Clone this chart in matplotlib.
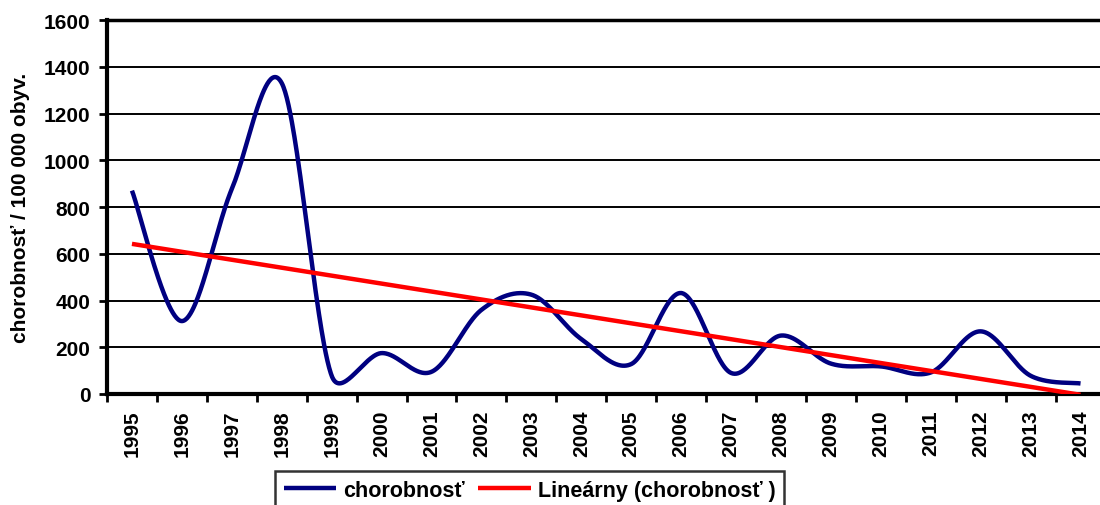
import numpy as np
import matplotlib.pyplot as plt

plt.rcParams['font.family'] = ['Liberation Sans', 'DejaVu Sans']
plt.rcParams['font.weight'] = 'bold'

# Data
years = [str(y) for y in range(1995, 2015)]
chorobnost = [870, 312, 877, 1330, 78, 175, 95, 360, 425, 235,
              128, 432, 90, 250, 130, 118, 92, 268, 78, 45]
y_ticks = [0, 200, 400, 600, 800, 1000, 1200, 1400, 1600]


def excel_smooth(ax, x, y, n=60):
    # Excel style smoothed line: Bezier segments built in pixel space,
    # control arm = |P(i+1)-P(i-1)|/6, capped at half of the segment
    pts = ax.transData.transform(np.column_stack([x, y]))
    m = len(pts)
    t = np.linspace(0, 1, n)[:, None]
    out = []
    for i in range(m - 1):
        p0 = pts[max(i - 1, 0)]
        p1 = pts[i]
        p2 = pts[i + 1]
        p3 = pts[min(i + 2, m - 1)]
        seg = np.linalg.norm(p2 - p1)
        d02 = p2 - p0
        d13 = p3 - p1
        n02 = np.linalg.norm(d02)
        n13 = np.linalg.norm(d13)
        c1 = p1 + (d02 / 6 if n02 / 6 < seg / 2 else d02 / n02 * seg / 2)
        c2 = p2 - (d13 / 6 if n13 / 6 < seg / 2 else d13 / n13 * seg / 2)
        b = (1 - t) ** 3 * p1 + 3 * (1 - t) ** 2 * t * c1 + 3 * (1 - t) * t ** 2 * c2 + t ** 3 * p2
        out.append(b if i == 0 else b[1:])
    out = np.vstack(out)
    data = ax.transData.inverted().transform(out)
    return data[:, 0], data[:, 1]


x = np.arange(1, len(years) + 1)
coef = np.polyfit(x, chorobnost, 1)
trend = np.polyval(coef, x)

fig = plt.figure(figsize=(11, 5.06), dpi=100)
ax = fig.add_axes([107 / 1100, 1 - 395 / 506, 1.0 - 107 / 1100 + 0.005, (395 - 21) / 506])
ax.set_xlim(0.5, len(years) + 0.5)
ax.set_ylim(0, 1600)

sx, sy = excel_smooth(ax, x, chorobnost)
ax.plot(sx, sy, color='#000080', lw=3.2, solid_capstyle='butt', label='chorobnosť', zorder=3)
ax.plot(x, trend, color='#FF0000', lw=3.2, solid_capstyle='butt', label='Lineárny (chorobnosť )', zorder=4)

ax.set_yticks(y_ticks)
ax.set_yticklabels([str(v) for v in y_ticks], fontsize=15, fontweight='bold')
ax.yaxis.grid(True, color='black', lw=1.4)
ax.set_axisbelow(True)

ax.set_xticks(np.arange(0.5, len(years) + 1, 1))
ax.set_xticklabels([])
ax.set_xticks(x, minor=True)
ax.set_xticklabels(years, minor=True, rotation=90, fontsize=15, fontweight='bold')
ax.tick_params(axis='x', which='major', length=6, width=2, direction='out')
ax.tick_params(axis='x', which='minor', length=0, pad=11)
ax.tick_params(axis='y', length=6, width=2, direction='out', pad=6)

for s in ['left', 'bottom']:
    ax.spines[s].set_linewidth(3)
ax.spines['top'].set_linewidth(2.5)
ax.spines['right'].set_visible(False)

ax.set_ylabel('chorobnosť / 100 000 obyv.', fontsize=15, fontweight='bold', labelpad=10)

leg = fig.legend(loc='upper left', bbox_to_anchor=(275 / 1100, 1 - 472 / 506), ncol=2,
                 frameon=True, fancybox=False, edgecolor='black', fontsize=15.5,
                 handlelength=2.45, columnspacing=0.65, handletextpad=0.3,
                 borderpad=0.4, borderaxespad=0)
leg.get_frame().set_linewidth(1.8)
for t in leg.get_texts():
    t.set_fontweight('bold')

fig.savefig('out.png', dpi=100)
